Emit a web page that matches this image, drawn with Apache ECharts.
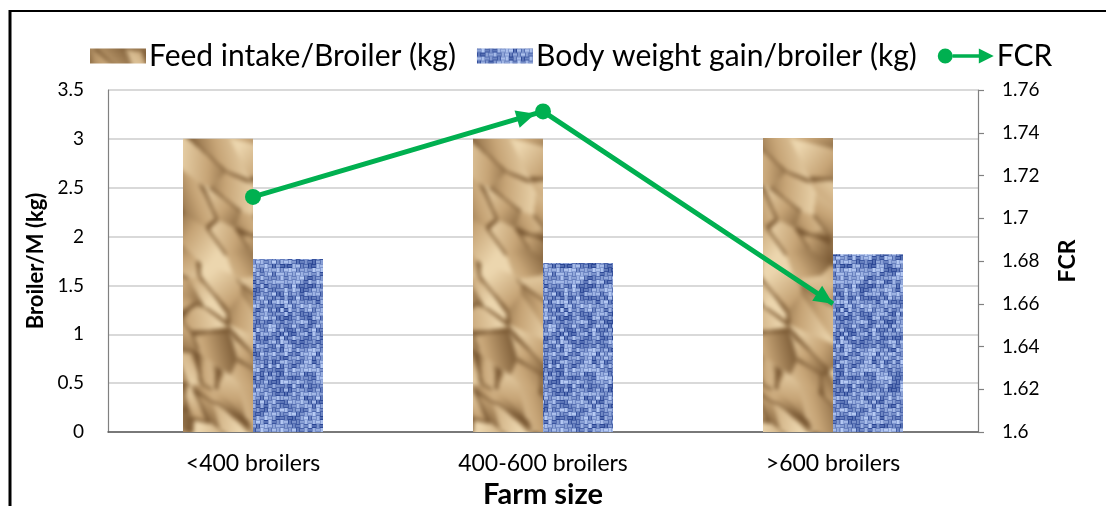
<!DOCTYPE html>
<html>
<head>
<meta charset="utf-8">
<script src="https://cdn.jsdelivr.net/npm/echarts@6/dist/echarts.min.js"></script>
<style>
  html, body { margin: 0; padding: 0; background: #ffffff; overflow: hidden; }
  #chart { width: 1106px; height: 506px; }
</style>
</head>
<body>
<div id="chart"></div>
<script>
// Farm size categories and the measured values per broiler
const categories = ['<400 broilers', '400-600 broilers', '>600 broilers'];
const feedIntake = [3.0, 3.0, 3.01];
const weightGain = [1.77, 1.73, 1.82];
const fcr = [1.71, 1.75, 1.66];

// Axis tick values
const leftTicks = [0, 0.5, 1, 1.5, 2, 2.5, 3, 3.5];
const rightTicks = [1.6, 1.62, 1.64, 1.66, 1.68, 1.7, 1.72, 1.74, 1.76];

const seriesNames = ['Feed intake/Broiler (kg)', 'Body weight gain/broiler (kg)', 'FCR'];

const FONT = 'Lato';
const GREEN = '#00b050';

// Deterministic hash used for the fill textures
function hash(x, y, s) {
  const h = Math.sin(x * 127.1 + y * 311.7 + s * 74.7) * 43758.5453;
  return h - Math.floor(h);
}

function mix(c1, c2, t) {
  t = Math.max(0, Math.min(1, t));
  return [c1[0] + (c2[0] - c1[0]) * t, c1[1] + (c2[1] - c1[1]) * t, c1[2] + (c2[2] - c1[2]) * t];
}

// Blur a tile while keeping it seamless: blur a 3x3 mosaic, keep the centre
function wrapBlur(src, radius) {
  const w = src.width, h = src.height;
  const big = document.createElement('canvas');
  big.width = w * 3; big.height = h * 3;
  const b = big.getContext('2d');
  for (let i = 0; i < 3; i++) for (let j = 0; j < 3; j++) b.drawImage(src, i * w, j * h);
  const blurred = document.createElement('canvas');
  blurred.width = w * 3; blurred.height = h * 3;
  const bb = blurred.getContext('2d');
  bb.filter = 'blur(' + radius + 'px)';
  bb.drawImage(big, 0, 0);
  const out = document.createElement('canvas');
  out.width = w; out.height = h;
  out.getContext('2d').drawImage(blurred, w, h, w, h, 0, 0, w, h);
  return out;
}

// Crumpled brown paper texture: planar facets with a few dark creases
function paperTexture() {
  const w = 140, h = 350, n = 55;
  const pts = [];
  for (let k = 0; k < n; k++) {
    const a = hash(k, 4, 5) * Math.PI * 2;
    pts.push({
      x: hash(k, 1, 5) * w, y: hash(k, 2, 5) * h,
      s: hash(k, 3, 5) * 1.1 - 0.45,
      gx: Math.cos(a) / 34, gy: Math.sin(a) / 34
    });
  }
  const cv = document.createElement('canvas');
  cv.width = w; cv.height = h;
  const ctx = cv.getContext('2d');
  const img = ctx.createImageData(w, h);
  const dark = [112, 80, 44], mid = [198, 164, 118], light = [236, 214, 174];
  for (let y = 0; y < h; y++) {
    for (let x = 0; x < w; x++) {
      let d1 = 1e9, d2 = 1e9, k1 = 0, k2 = 0, rx = 0, ry = 0;
      for (let k = 0; k < n; k++) {
        const p = pts[k];
        for (let ox = -1; ox <= 1; ox++) {
          for (let oy = -1; oy <= 1; oy++) {
            const dx = x - (p.x + ox * w), dy = y - (p.y + oy * h);
            const u = (dx + dy) * 0.7071, v = (dx - dy) * 0.7071;
            const d = u * u * 0.3 + v * v * 1.4;
            if (d < d1) { d2 = d1; k2 = k1; d1 = d; k1 = k; rx = dx; ry = dy; }
            else if (d < d2) { d2 = d; k2 = k; }
          }
        }
      }
      const p = pts[k1];
      let shade = p.s + rx * p.gx + ry * p.gy;
      const edge = Math.sqrt(d2) - Math.sqrt(d1);
      const pair = hash(Math.min(k1, k2), Math.max(k1, k2), 9);
      if (pair > 0.5 && edge < 1.5) shade = -0.9;
      else if (pair > 0.5 && edge < 3) shade = Math.min(shade, -0.3);
      const col = shade >= 0 ? mix(mid, light, shade) : mix(mid, dark, -shade);
      const i = (y * w + x) * 4;
      img.data[i] = col[0]; img.data[i + 1] = col[1]; img.data[i + 2] = col[2]; img.data[i + 3] = 255;
    }
  }
  ctx.putImageData(img, 0, 0);
  return wrapBlur(cv, 2);
}

// Blue woven canvas texture
function weaveTexture() {
  const w = 140, h = 352, p = 4;
  const cv = document.createElement('canvas');
  cv.width = w; cv.height = h;
  const ctx = cv.getContext('2d');
  const img = ctx.createImageData(w, h);
  const dark = [38, 66, 146], light = [186, 206, 246];
  const prof = [0.3, 0.8, 0.75, 0.35];
  for (let y = 0; y < h; y++) {
    for (let x = 0; x < w; x++) {
      const cx = Math.floor(x / p), cy = Math.floor(y / p);
      const over = (cx + cy) % 2 === 0;
      let b = over ? prof[y % p] : prof[x % p];
      b = b * 0.6 + (hash(cx % 35, cy % 88, 11) - 0.5) * 0.7 + 0.17;
      const col = mix(dark, light, b);
      const i = (y * w + x) * 4;
      img.data[i] = col[0]; img.data[i + 1] = col[1]; img.data[i + 2] = col[2]; img.data[i + 3] = 255;
    }
  }
  ctx.putImageData(img, 0, 0);
  return wrapBlur(cv, 0.7);
}

const paper = { image: paperTexture(), repeat: 'repeat' };
const weave = { image: weaveTexture(), repeat: 'repeat' };

function fmt(v) { return String(parseFloat(v.toFixed(2))); }

const chart = echarts.init(document.getElementById('chart'), null, { renderer: 'canvas', width: 1106, height: 506 });

const MARKER = 16;

const option = {
  animation: false,
  backgroundColor: '#ffffff',
  textStyle: { fontFamily: FONT, color: '#000' },
  grid: { left: 108, width: 870, top: 90, height: 342, containLabel: false, outerBoundsMode: 'none' },
  legend: {
    top: 36,
    left: 85,
    itemWidth: 56,
    itemHeight: 15,
    itemGap: 21,
    textStyle: { fontFamily: FONT, fontSize: 30, color: '#000', padding: [0, 0, 0, -2] },
    data: [
      { name: seriesNames[0], icon: 'rect' },
      { name: seriesNames[1], icon: 'rect' },
      { name: seriesNames[2], icon: 'path://M0,8a8,8 0 1,0 16,0a8,8 0 1,0 -16,0zM16,6L46,6L46,10L16,10zM44,0L60,8L44,16z', itemStyle: { color: GREEN } }
    ]
  },
  xAxis: {
    type: 'category',
    data: categories,
    boundaryGap: true,
    axisLine: { show: true, lineStyle: { color: '#595959', width: 1.5 } },
    axisTick: { show: false },
    axisLabel: { fontFamily: FONT, fontSize: 23, color: '#000', margin: 20 },
    name: 'Farm size',
    nameLocation: 'middle',
    nameGap: 46,
    nameTextStyle: { fontFamily: FONT, fontSize: 29, fontWeight: 'bold', color: '#000' }
  },
  yAxis: [
    {
      type: 'value',
      min: leftTicks[0],
      max: leftTicks[leftTicks.length - 1],
      interval: leftTicks[1] - leftTicks[0],
      axisLine: { show: true, lineStyle: { color: '#808080', width: 1.2 } },
      axisTick: { show: false },
      splitLine: { show: true, lineStyle: { color: '#d9d9d9', width: 2 } },
      axisLabel: { fontFamily: FONT, fontSize: 19, color: '#000', margin: 24, formatter: fmt },
      name: 'Broiler/M (kg)',
      nameLocation: 'middle',
      nameRotate: 90,
      nameGap: 60,
      nameTextStyle: { fontFamily: FONT, fontSize: 22, fontWeight: 'bold', color: '#000' }
    },
    {
      type: 'value',
      position: 'right',
      min: rightTicks[0],
      max: rightTicks[rightTicks.length - 1],
      interval: 0.02,
      axisLine: { show: true, lineStyle: { color: '#808080', width: 1.2 } },
      axisTick: { show: true, inside: false, length: 6, lineStyle: { color: '#808080', width: 1.2 } },
      splitLine: { show: false },
      axisLabel: { fontFamily: FONT, fontSize: 19, color: '#000', margin: 24, formatter: fmt },
      name: 'FCR',
      nameLocation: 'middle',
      nameRotate: 90,
      nameGap: 78,
      nameTextStyle: { fontFamily: FONT, fontSize: 23, fontWeight: 'bold', color: '#000' }
    }
  ],
  series: [
    {
      name: seriesNames[0],
      type: 'bar',
      yAxisIndex: 0,
      data: feedIntake,
      barWidth: 70,
      barGap: '0%',
      itemStyle: { color: paper },
      z: 2
    },
    {
      name: seriesNames[1],
      type: 'bar',
      yAxisIndex: 0,
      data: weightGain,
      barWidth: 70,
      barGap: '0%',
      itemStyle: { color: weave },
      z: 2
    },
    {
      name: seriesNames[2],
      type: 'line',
      yAxisIndex: 1,
      data: fcr.map((v, i) => ({ value: v, symbol: i < fcr.length - 1 ? 'circle' : 'none' })),
      symbolSize: MARKER,
      lineStyle: { color: GREEN, width: 5 },
      itemStyle: { color: GREEN },
      z: 4
    },
    {
      // Arrow heads at the end of each FCR segment
      name: seriesNames[2],
      type: 'custom',
      yAxisIndex: 1,
      data: fcr.map((v, i) => [i, v]),
      z: 5,
      silent: true,
      renderItem: function (params, api) {
        const i = params.dataIndex;
        if (i === 0) return null;
        const p = api.coord([i, fcr[i]]);
        const q = api.coord([i - 1, fcr[i - 1]]);
        let dx = p[0] - q[0], dy = p[1] - q[1];
        const d = Math.sqrt(dx * dx + dy * dy);
        dx /= d; dy /= d;
        const back = i < fcr.length - 1 ? MARKER / 2 : 0;
        const L = 19, W = 9;
        const tx = p[0] - dx * back, ty = p[1] - dy * back;
        const bx = tx - dx * L, by = ty - dy * L;
        return {
          type: 'polygon',
          shape: { points: [[tx, ty], [bx - dy * W, by + dx * W], [bx + dy * W, by - dx * W]] },
          style: { fill: GREEN }
        };
      }
    }
  ],
  graphic: [
    { type: 'line', shape: { x1: 9, y1: 11, x2: 1106, y2: 11 }, style: { stroke: '#000', lineWidth: 2 }, silent: true },
    { type: 'line', shape: { x1: 10, y1: 10, x2: 10, y2: 506 }, style: { stroke: '#000', lineWidth: 3 }, silent: true }
  ]
};

chart.setOption(option);
</script>
</body>
</html>
